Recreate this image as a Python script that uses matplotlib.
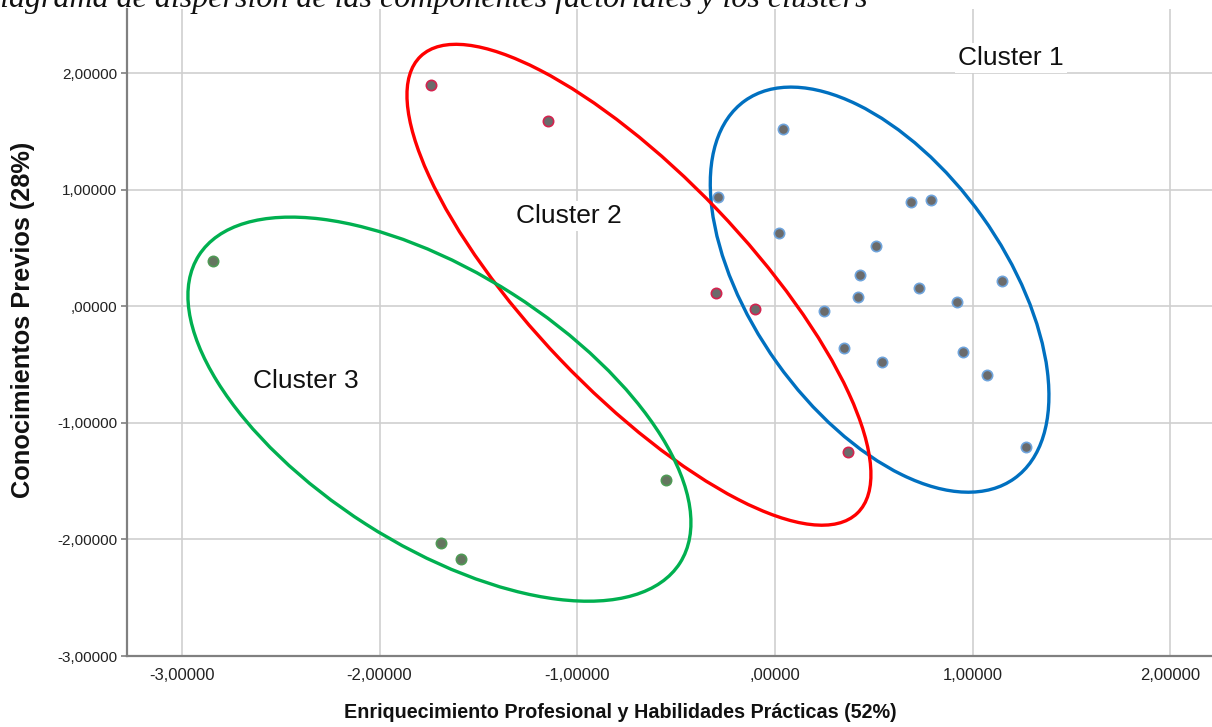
import matplotlib
matplotlib.use("Agg")
import matplotlib.pyplot as plt
from matplotlib.patches import Ellipse
from matplotlib.ticker import FuncFormatter, MultipleLocator
from matplotlib.transforms import ScaledTranslation

# factor scores per cluster
c1_x = [0.04, -0.29, 0.69, 0.79, 0.02, 0.51, 0.43, 0.73, 1.15, 0.42, 0.92, 0.25, 0.35, 0.54, 0.95, 1.07, 1.27]
c1_y = [1.52, 0.94, 0.89, 0.91, 0.63, 0.52, 0.27, 0.16, 0.22, 0.08, 0.04, -0.04, -0.36, -0.48, -0.39, -0.59, -1.21]
c2_x = [-1.74, -1.15, -0.30, -0.10, 0.37]
c2_y = [1.90, 1.59, 0.11, -0.02, -1.25]
c3_x = [-2.84, -1.69, -1.59, -0.55]
c3_y = [0.39, -2.03, -2.17, -1.49]

cluster_names = ["Cluster 1", "Cluster 2", "Cluster 3"]
title = "Diagrama de dispersión de las componentes factoriales y los clusters"
xlabel = "Enriquecimiento Profesional y Habilidades Prácticas (52%)"
ylabel = "Conocimientos Previos (28%)"

W, H = 1212, 727

plt.rcParams["font.family"] = ["Liberation Sans", "DejaVu Sans"]

fig = plt.figure(figsize=(W / 100, H / 100), dpi=100)
ax = fig.add_axes([127 / W, (H - 656) / H, (W - 127) / W, (656 - 9) / H])

ax.set_xlim(-3.277, 2.21)
ax.set_ylim(-3.0, 2.549)
ax.xaxis.set_major_locator(MultipleLocator(1))
ax.yaxis.set_major_locator(MultipleLocator(1))


def spss_fmt(v, pos):
    s = f"{abs(v):.5f}".replace(".", ",")
    if s.startswith("0,"):
        s = s[1:]
    return ("-" if v < -1e-9 else "") + s


ax.xaxis.set_major_formatter(FuncFormatter(spss_fmt))
ax.yaxis.set_major_formatter(FuncFormatter(spss_fmt))

ax.grid(True, color="#cfcfcf", linewidth=1.2)
ax.set_axisbelow(True)
for side in ("top", "right"):
    ax.spines[side].set_visible(False)
for side in ("left", "bottom"):
    ax.spines[side].set_color("#808080")
    ax.spines[side].set_linewidth(1.6)

ax.tick_params(axis="y", length=4, width=1.2, color="#808080", pad=3, labelsize=11, labelcolor="#222222")
ax.tick_params(axis="x", length=0, pad=9, labelsize=12, labelcolor="#222222")

# cluster points: grey fill, coloured rim
ax.scatter(c1_x, c1_y, s=55, c="#6b6b6b", edgecolors="#6fa4dc", linewidths=1.2, zorder=3)
ax.scatter(c2_x, c2_y, s=55, c="#6b6b6b", edgecolors="#d4234f", linewidths=1.2, zorder=3)
ax.scatter(c3_x, c3_y, s=55, c="#64755f", edgecolors="#4f9a55", linewidths=1.2, zorder=3)

# hand-drawn style cluster outlines: centre in data units, size in inches
outlines = [
    ((0.529, 0.142), 4.64, 2.52, -54.5, "#0070c0"),
    ((-0.688, 0.184), 6.32, 2.17, -46.3, "#ff0000"),
    ((-1.697, -0.883), 5.71, 2.73, -32.6, "#00b050"),
]
for (cx, cy), w, h, ang, col in outlines:
    tr = fig.dpi_scale_trans + ScaledTranslation(cx, cy, ax.transData)
    ax.add_patch(Ellipse((0, 0), w, h, angle=ang, transform=tr, fill=False,
                         edgecolor=col, linewidth=2.4, zorder=4))

label_pos = [(1.194, 2.127), (-1.044, 0.772), (-2.372, -0.643)]
for name, (lx, ly) in zip(cluster_names, label_pos):
    ax.text(lx, ly, name, ha="center", va="center", fontsize=19, color="#111111",
            bbox=dict(facecolor="white", edgecolor="none", pad=2), zorder=5)

ax.set_xlabel(xlabel, fontweight="bold", fontsize=14.2, color="#111111")
ax.xaxis.set_label_coords((620 - 127) / (W - 127), (656 - 713) / (656 - 9))
ax.xaxis.label.set_va("center")
ax.set_ylabel(ylabel, fontweight="bold", fontsize=18.3, color="#111111")
ax.yaxis.set_label_coords((23 - 127) / (W - 127), (656 - 320) / (656 - 9))
ax.yaxis.label.set_va("center")

fig.text(-23 / W, 1 - 7 / H, title, family=["Liberation Serif", "DejaVu Serif"],
         style="italic", fontsize=23, ha="left", va="baseline", color="#111111")

fig.savefig("out.png", dpi=100, facecolor="white")
